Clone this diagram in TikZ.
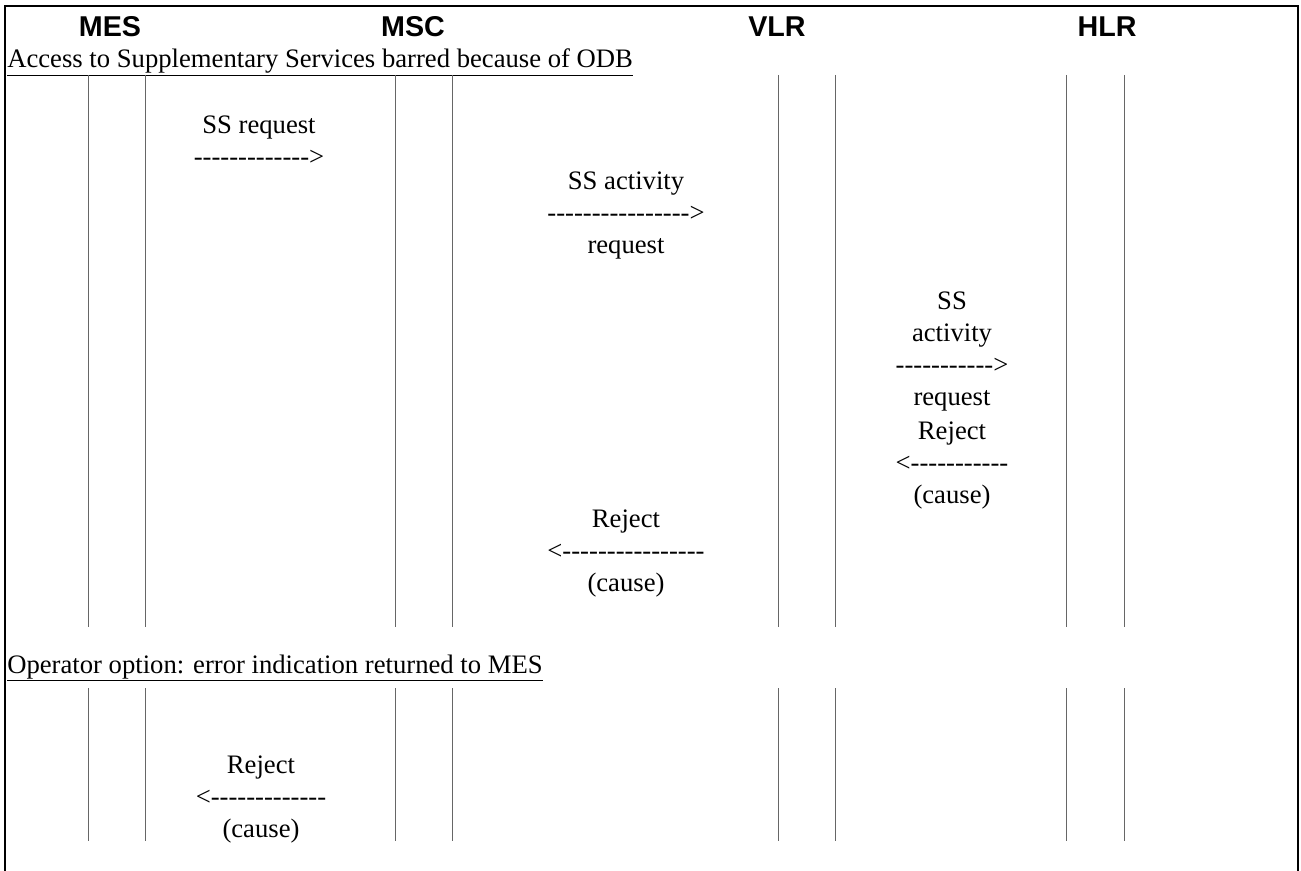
\documentclass[tikz,border=0pt]{standalone}
\usepackage{fontspec}
\setmainfont{Liberation Serif}
\newfontfamily\msgfont{Liberation Serif}
\newfontfamily\entityfont{Liberation Sans}

\tikzstyle{entity} = [font=\entityfont\bfseries\fontsize{21.5}{24}\selectfont, inner sep=0pt, anchor=base]
\tikzstyle{section} = [font=\msgfont\fontsize{20}{24}\selectfont, inner sep=0pt, anchor=base west]
\tikzstyle{message} = [font=\msgfont\fontsize{20}{24}\selectfont, align=center, inner sep=0pt]
\tikzstyle{lifeline} = [draw, gray!80!black, line width=0.6pt]
\tikzstyle{frame} = [draw, line width=1.6pt]

\begin{document}
\begin{tikzpicture}[x=0.75pt, y=-0.75pt]

\useasboundingbox (0,0) rectangle (1301,870);

	%Outer frame, open at the bottom
	\coordinate (FrameBL) at (5,880);
	\coordinate (FrameTL) at (5,6);
	\coordinate (FrameTR) at (1298,6);
	\coordinate (FrameBR) at (1298,880);
	\path[frame] (FrameBL) -- (FrameTL) -- (FrameTR) -- (FrameBR);

	%Names of the network entities
	\node[entity](MES) at (110,37) {MES};
	\node[entity](MSC) at (413,37) {MSC};
	\node[entity](VLR) at (777,37) {VLR};
	\node[entity](HLR) at (1107,37) {HLR};

	%Section headings
	\node[section](Barred) at (7,68) {\underline{Access to Supplementary Services barred because of ODB}};
	\node[section](Option) at (7,673) {\underline{Operator option: error indication returned to MES}};

	%Lifelines of both sections
	\foreach \x in {88,145,395,452,778,835,1066,1124} {
		\coordinate (A\x) at (\x,75);
		\coordinate (B\x) at (\x,627);
		\coordinate (C\x) at (\x,688);
		\coordinate (D\x) at (\x,841);
		\path[lifeline] (A\x) -- (B\x);
		\path[lifeline] (C\x) -- (D\x);
	}

	%Messages of the first section
	\node[message](SSreq) at (259,141) {SS request\\-------------{}>};
	\node[message](SSact) at (626,216) {SS activity\\----------------{}>\\request};
	\node[message](SSactHLR) at (952,352) {SS\\activity\\-----------{}>\\request};
	\node[message](RejHLR) at (952,466) {Reject\\<{}-----------\\(cause)};
	\node[message](RejVLR) at (626,554) {Reject\\<{}----------------\\(cause)};

	%Message of the second section
	\node[message](RejMES) at (261,799) {Reject\\<{}-------------\\(cause)};

\end{tikzpicture}
\end{document}
